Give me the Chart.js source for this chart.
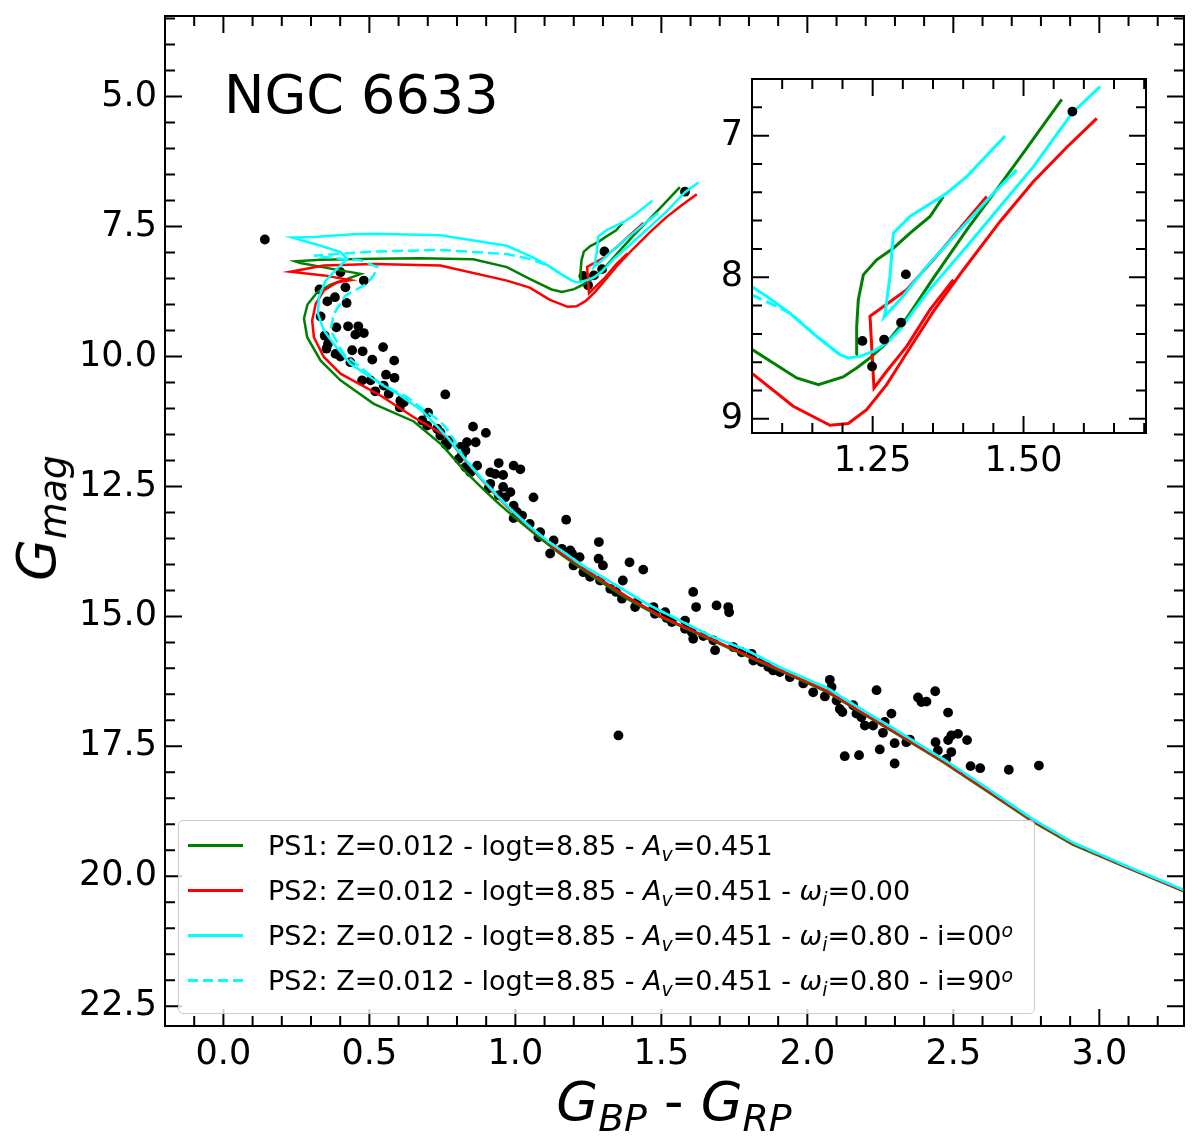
<!DOCTYPE html>
<html>
<head>
<meta charset="utf-8">
<script src="https://cdn.jsdelivr.net/npm/chart.js@4.4.0/dist/chart.umd.min.js"></script>
<style>
html, body { margin: 0; padding: 0; background: #fff; }
#wrap { position: relative; width: 1200px; height: 1140px; font-family: 'DejaVu Sans', sans-serif; color: #000; }
canvas { position: absolute; }
#main { left: 0; top: 0; }
#inset { left: 690px; top: 64px; }
.lbl { position: absolute; white-space: nowrap; line-height: 1; }
sub { font-size: 70%; vertical-align: baseline; position: relative; top: 0.3em; }
sup { font-size: 70%; vertical-align: baseline; position: relative; top: -0.45em; }
#title { left: 224px; top: 68px; font-size: 54px; }
#xtitle { left: 674px; top: 1075px; font-size: 54px; transform: translateX(-50%); }
#ytitle { left: 37px; top: 518px; font-size: 54px; transform: translate(-50%, -50%) rotate(-90deg); }
#legend { position: absolute; left: 178px; top: 820px; width: 855px; height: 190px;
  background: rgba(255,255,255,0.8); border: 1px solid #cccccc; border-radius: 5px;
  font-size: 27px; padding-top: 2px; box-sizing: content-box; }
.row { display: flex; align-items: center; height: 45px; white-space: nowrap; }
.sw { width: 55px; margin-left: 9px; margin-right: 25px; height: 2.5px; }
</style>
</head>
<body>
<div id="wrap">
  <canvas id="main" width="1200" height="1140"></canvas>
  <canvas id="inset" width="470" height="422"></canvas>
  <div class="lbl" id="title">NGC 6633</div>
  <div class="lbl" id="xtitle"><i>G</i><sub><i>BP</i></sub> - <i>G</i><sub><i>RP</i></sub></div>
  <div class="lbl" id="ytitle"><i>G</i><sub><i>mag</i></sub></div>
  <div id="legend"></div>
</div>
<script>
// observed stars (Gaia colour, G magnitude)
const starColor = [0.142,0.401,0.481,0.329,0.418,0.356,0.382,0.422,0.333,0.387,0.427,0.462,0.452,0.481,0.347,0.358,0.353,0.384,0.401,0.441,0.477,0.547,0.510,0.585,0.435,0.557,0.586,0.475,0.504,0.549,0.520,0.566,0.760,0.606,0.618,0.604,0.701,0.681,0.698,0.732,0.743,0.855,0.899,0.772,0.766,0.834,0.864,0.812,0.829,0.817,0.806,0.869,0.829,0.846,0.943,0.994,1.017,0.914,0.931,0.958,0.914,0.908,0.958,0.983,0.965,1.062,0.943,0.994,1.005,1.023,0.994,1.049,1.085,1.079,1.174,1.131,1.119,1.159,1.188,1.194,1.220,1.286,1.285,1.300,1.199,1.233,1.256,1.290,1.391,1.438,1.368,1.325,1.365,1.416,1.410,1.473,1.478,1.513,1.518,1.536,1.609,1.619,1.689,1.729,1.732,1.581,1.581,1.604,1.609,1.644,1.678,1.684,1.746,1.809,1.815,1.866,1.883,1.345,1.775,1.843,1.906,1.940,1.986,2.020,2.060,2.077,2.083,2.100,2.111,2.120,2.157,2.168,2.185,2.197,2.225,2.237,2.288,2.265,2.259,2.299,2.339,2.248,2.128,2.177,2.299,2.379,2.391,2.408,2.438,2.482,2.439,2.447,2.482,2.493,2.493,2.516,2.476,2.351,2.547,2.559,2.592,2.690,2.793,1.353,1.581,1.233,1.249,1.269,1.297,1.305,0.743,0.760];
const starMag = [7.75,8.38,8.54,8.71,8.67,8.94,8.86,8.97,9.23,9.44,9.42,9.42,9.58,9.55,9.60,9.76,9.85,9.95,10.00,9.88,9.90,9.82,10.06,10.08,10.11,10.35,10.41,10.46,10.46,10.56,10.67,10.72,10.73,10.85,10.88,10.98,11.08,11.23,11.33,11.39,11.52,11.35,11.47,11.62,11.71,11.65,11.65,11.74,11.81,11.90,11.97,12.10,12.13,12.23,12.05,12.10,12.17,12.23,12.26,12.28,12.45,12.54,12.51,12.61,12.71,12.71,12.67,12.87,12.99,13.06,13.11,13.22,13.38,13.48,13.14,13.54,13.79,13.70,13.73,13.79,13.86,13.57,13.89,14.02,14.02,14.15,14.24,14.31,13.96,14.10,14.31,14.47,14.66,14.73,14.82,14.82,14.95,14.92,15.03,15.11,14.53,14.82,14.79,14.82,14.92,15.08,15.24,15.30,15.43,15.38,15.46,15.65,15.59,15.72,15.85,15.97,16.04,14.53,15.69,15.88,16.07,16.17,16.29,16.46,16.54,16.22,16.36,16.62,16.78,16.84,16.71,16.87,16.94,17.10,17.10,16.42,16.87,17.03,17.24,17.44,17.42,17.56,17.69,17.67,17.83,16.56,16.65,16.64,16.44,16.85,17.42,17.58,17.38,17.29,17.61,17.26,17.74,17.37,17.38,17.88,17.92,17.95,17.87,17.29,6.83,8.45,8.63,8.44,8.32,7.98,11.46,11.68];

// PS1 isochrone (main sequence -> giant branch, then core He burning)
const ps1Color = [3.35,3.285,3.092,2.909,2.772,2.601,2.464,2.293,2.180,2.066,1.951,1.838,1.724,1.609,1.496,1.382,1.267,1.154,1.074,0.994,0.937,0.880,0.823,0.750,0.652,0.515,0.401,0.333,0.287,0.276,0.288,0.321,0.367,0.418,0.470,0.367,0.264,0.247,0.333,0.514,0.675,0.856,0.971,1.049,1.124,1.160,1.201,1.2235,1.2456,1.2732,1.3064,1.3506,1.4059,1.4612,1.5054,1.5634];
const ps1Mag = [20.43,20.28,19.83,19.39,18.95,18.31,17.80,17.22,16.84,16.45,16.16,15.88,15.59,15.30,15.01,14.66,14.24,13.80,13.45,13.08,12.80,12.50,12.18,11.71,11.25,10.91,10.46,10.08,9.63,9.27,9.00,8.77,8.62,8.52,8.41,8.31,8.20,8.17,8.14,8.12,8.11,8.13,8.28,8.507,8.711,8.758,8.704,8.641,8.570,8.464,8.288,8.006,7.665,7.348,7.089,6.744];
const ps1HeColor = [1.2224,1.2235,1.2262,1.2345,1.2566,1.2843,1.3119,1.3451,1.3672];
const ps1HeMag = [8.547,8.347,8.159,7.983,7.877,7.795,7.689,7.571,7.430];

// PS2, omega_i = 0.00
const ps2w0Color = [3.35,3.285,3.092,2.909,2.772,2.601,2.464,2.293,2.180,2.066,1.951,1.838,1.724,1.609,1.496,1.382,1.267,1.154,1.051,0.994,0.937,0.880,0.823,0.766,0.720,0.652,0.538,0.401,0.344,0.310,0.304,0.316,0.344,0.390,0.435,0.344,0.230,0.344,0.515,0.743,0.971,1.0493,1.1184,1.1792,1.2096,1.2400,1.2732,1.3064,1.3506,1.4004,1.4612,1.5165,1.5717,1.6215];
const ps2w0Mag = [20.42,20.27,19.82,19.37,18.93,18.29,17.78,17.20,16.82,16.43,16.14,15.86,15.57,15.28,14.99,14.62,14.20,13.77,13.30,13.01,12.69,12.34,11.96,11.55,11.39,11.17,10.75,10.33,10.01,9.63,9.31,8.99,8.73,8.57,8.53,8.44,8.37,8.25,8.22,8.25,8.54,8.676,8.911,9.045,9.033,8.935,8.758,8.535,8.241,7.947,7.606,7.324,7.082,6.878];
const ps2w0HeColor = [1.4391,1.3948,1.3506,1.3064,1.2456,1.2522,1.2732,1.3064,1.345,1.3838];
const ps2w0HeMag = [7.430,7.653,7.877,8.088,8.276,8.782,8.664,8.488,8.229,8.018];

// PS2, omega_i = 0.80, i = 00
const ps2i00Color = [3.35,3.285,3.092,2.909,2.772,2.601,2.464,2.293,2.180,2.066,1.906,1.792,1.678,1.564,1.450,1.336,1.222,1.165,1.108,1.051,0.994,0.937,0.880,0.823,0.766,0.686,0.606,0.539,0.435,0.378,0.344,0.324,0.327,0.350,0.390,0.424,0.401,0.333,0.236,0.309,0.447,0.515,0.743,0.971,1.0493,1.0742,1.1129,1.1571,1.1958,1.2096,1.2290,1.2511,1.2732,1.2953,1.3396,1.4059,1.4612,1.5165,1.5811,1.6270];
const ps2i00Mag = [20.40,20.25,19.80,19.35,18.90,18.25,17.74,17.15,16.77,16.37,15.98,15.65,15.40,15.08,14.76,14.37,13.99,13.76,13.54,13.28,12.99,12.67,12.32,11.94,11.55,11.07,10.75,10.53,10.14,9.76,9.50,9.18,8.86,8.54,8.31,8.12,7.99,7.87,7.71,7.70,7.65,7.64,7.67,7.87,8.065,8.135,8.253,8.417,8.547,8.570,8.559,8.523,8.464,8.370,8.112,7.783,7.501,7.219,6.838,6.654];
const ps2i00HeColor = [1.4695,1.4059,1.3727,1.3119,1.2843,1.2787,1.2705,1.2688,1.2953,1.3396,1.3948,1.4501,1.4888];
const ps2i00HeMag = [7.002,7.289,7.407,7.571,7.689,7.994,8.253,8.281,8.159,7.924,7.665,7.407,7.242];

// PS2, omega_i = 0.80, i = 90
const ps2i90Color = [3.35,3.285,3.092,2.909,2.772,2.601,2.464,2.293,2.180,2.066,1.906,1.792,1.678,1.564,1.450,1.336,1.222,1.165,1.108,1.051,0.994,0.937,0.880,0.823,0.790,0.766,0.743,0.675,0.629,0.538,0.470,0.412,0.367,0.378,0.418,0.492,0.515,0.527,0.470,0.367,0.310,0.515,0.743,0.971,1.0493,1.0908,1.1129,1.1571,1.1958];
const ps2i90Mag = [20.40,20.25,19.80,19.35,18.90,18.25,17.74,17.15,16.77,16.37,15.98,15.65,15.40,15.08,14.76,14.37,13.99,13.76,13.54,13.28,12.99,12.67,12.32,11.94,11.60,11.40,11.25,10.98,10.78,10.52,10.21,9.95,9.50,9.18,8.83,8.60,8.44,8.28,8.15,8.10,8.06,7.98,7.95,8.03,8.124,8.206,8.253,8.417,8.547];

const seriesNames = [
  'PS1: Z=0.012 - logt=8.85 - <i>A</i><sub><i>v</i></sub>=0.451',
  'PS2: Z=0.012 - logt=8.85 - <i>A</i><sub><i>v</i></sub>=0.451 - <i>ω</i><sub><i>i</i></sub>=0.00',
  'PS2: Z=0.012 - logt=8.85 - <i>A</i><sub><i>v</i></sub>=0.451 - <i>ω</i><sub><i>i</i></sub>=0.80 - i=00<sup><i>o</i></sup>',
  'PS2: Z=0.012 - logt=8.85 - <i>A</i><sub><i>v</i></sub>=0.451 - <i>ω</i><sub><i>i</i></sub>=0.80 - i=90<sup><i>o</i></sup>'
];
const seriesColors = ['green', 'red', 'cyan', 'cyan'];
const seriesDashed = [false, false, false, true];

function pts(xs, ys) { return xs.map((x, i) => ({ x: x, y: ys[i] })); }

const lines = [
  { c: ps1Color, m: ps1Mag, s: 0, order: 4 },
  { c: ps1HeColor, m: ps1HeMag, s: 0, order: 4 },
  { c: ps2w0Color, m: ps2w0Mag, s: 1, order: 3 },
  { c: ps2w0HeColor, m: ps2w0HeMag, s: 1, order: 3 },
  { c: ps2i00Color, m: ps2i00Mag, s: 2, order: 2 },
  { c: ps2i00HeColor, m: ps2i00HeMag, s: 2, order: 2 },
  { c: ps2i90Color, m: ps2i90Mag, s: 3, order: 1 }
];

function datasets(starOrder, lw) {
  const ds = lines.map(l => ({
    data: pts(l.c, l.m),
    showLine: true,
    borderColor: seriesColors[l.s],
    borderWidth: lw,
    borderDash: seriesDashed[l.s] ? [11, 5] : [],
    pointRadius: 0,
    fill: false,
    order: l.order
  }));
  ds.push({
    data: pts(starColor, starMag),
    pointRadius: 4.9,
    backgroundColor: '#000',
    borderWidth: 0,
    order: starOrder
  });
  return ds;
}

function steps(min, max, step) {
  const out = [];
  for (let k = Math.ceil(min / step - 1e-9); k * step <= max + 1e-9; k++) out.push(k * step);
  return out;
}

// inward ticks on all four sides plus the frame, like the original figure
const frameTicks = {
  id: 'frameTicks',
  beforeDraw(chart, args, o) {
    if (!o.fill) return;
    const a = chart.chartArea, ctx = chart.ctx;
    ctx.save();
    ctx.fillStyle = '#fff';
    ctx.fillRect(a.left, a.top, a.right - a.left, a.bottom - a.top);
    ctx.restore();
  },
  afterDraw(chart, args, o) {
    const { ctx, chartArea: a, scales } = chart;
    const isMajor = (v, st) => Math.abs(v / st - Math.round(v / st)) < 1e-6;
    ctx.save();
    ctx.strokeStyle = '#000';
    ctx.lineWidth = o.width;
    ctx.beginPath();
    for (const v of steps(scales.x.min, scales.x.max, o.xMinor)) {
      const p = scales.x.getPixelForValue(v);
      const len = isMajor(v, o.xMajor) ? o.major : o.minor;
      ctx.moveTo(p, a.bottom); ctx.lineTo(p, a.bottom - len);
      ctx.moveTo(p, a.top); ctx.lineTo(p, a.top + len);
    }
    for (const v of steps(scales.y.min, scales.y.max, o.yMinor)) {
      const p = scales.y.getPixelForValue(v);
      const len = isMajor(v, o.yMajor) ? o.major : o.minor;
      ctx.moveTo(a.left, p); ctx.lineTo(a.left + len, p);
      ctx.moveTo(a.right, p); ctx.lineTo(a.right - len, p);
    }
    ctx.stroke();
    ctx.strokeRect(a.left, a.top, a.right - a.left, a.bottom - a.top);
    ctx.restore();
  }
};

function makeChart(el, c) {
  const tickFont = { family: 'DejaVu Sans', size: 35 };
  return new Chart(el, {
    type: 'scatter',
    data: { datasets: datasets(c.starOrder, c.lw) },
    options: {
      responsive: false,
      animation: false,
      events: [],
      layout: { padding: c.padding },
      plugins: {
        legend: { display: false },
        tooltip: { enabled: false },
        frameTicks: c.frame
      },
      scales: {
        x: {
          type: 'linear', min: c.xMin, max: c.xMax,
          grid: { display: false, drawTicks: false }, border: { display: false },
          ticks: { stepSize: c.xStep, includeBounds: false, autoSkip: false, maxRotation: 0,
                   padding: c.xPad, color: '#000', font: tickFont,
                   callback: v => Number(v).toFixed(c.xDec) },
          afterFit: s => { s.height = c.xHeight; s.paddingLeft = 0; s.paddingRight = 0; }
        },
        y: {
          type: 'linear', reverse: true, min: c.yMin, max: c.yMax,
          grid: { display: false, drawTicks: false }, border: { display: false },
          ticks: { stepSize: c.yStep, includeBounds: false, autoSkip: false,
                   padding: c.yPad, color: '#000', font: tickFont,
                   callback: v => Number(v).toFixed(c.yDec) },
          afterFit: s => { s.width = c.yWidth; s.paddingTop = 0; s.paddingBottom = 0; }
        }
      }
    },
    plugins: [frameTicks]
  });
}

makeChart(document.getElementById('main'), {
  starOrder: 5, lw: 2.5,
  padding: { left: 0, top: 16, right: 16, bottom: 0 },
  xMin: -0.2, xMax: 3.29, xStep: 0.5, xDec: 1, xPad: 8, xHeight: 114,
  yMin: 3.45, yMax: 22.88, yStep: 2.5, yDec: 1, yPad: 8, yWidth: 165,
  frame: { width: 2, major: 17, minor: 10, xMinor: 0.1, xMajor: 0.5, yMinor: 0.5, yMajor: 2.5, fill: false }
});

makeChart(document.getElementById('inset'), {
  starOrder: 0, lw: 3,
  padding: { left: 0, top: 15, right: 14, bottom: 0 },
  xMin: 1.05, xMax: 1.703, xStep: 0.25, xDec: 2, xPad: 8, xHeight: 53,
  yMin: 6.6, yMax: 9.1, yStep: 1, yDec: 0, yPad: 9, yWidth: 62,
  frame: { width: 2, major: 17, minor: 10, xMinor: 0.05, xMajor: 0.25, yMinor: 0.2, yMajor: 1, fill: true }
});

// legend built from the series arrays
const legend = document.getElementById('legend');
seriesNames.forEach((name, i) => {
  const row = document.createElement('div');
  row.className = 'row';
  const sw = document.createElement('span');
  sw.className = 'sw';
  sw.style.background = seriesDashed[i]
    ? 'repeating-linear-gradient(to right, ' + seriesColors[i] + ' 0 10px, transparent 10px 15px)'
    : seriesColors[i];
  const txt = document.createElement('span');
  txt.innerHTML = name;
  row.appendChild(sw);
  row.appendChild(txt);
  legend.appendChild(row);
});
</script>
</body>
</html>
